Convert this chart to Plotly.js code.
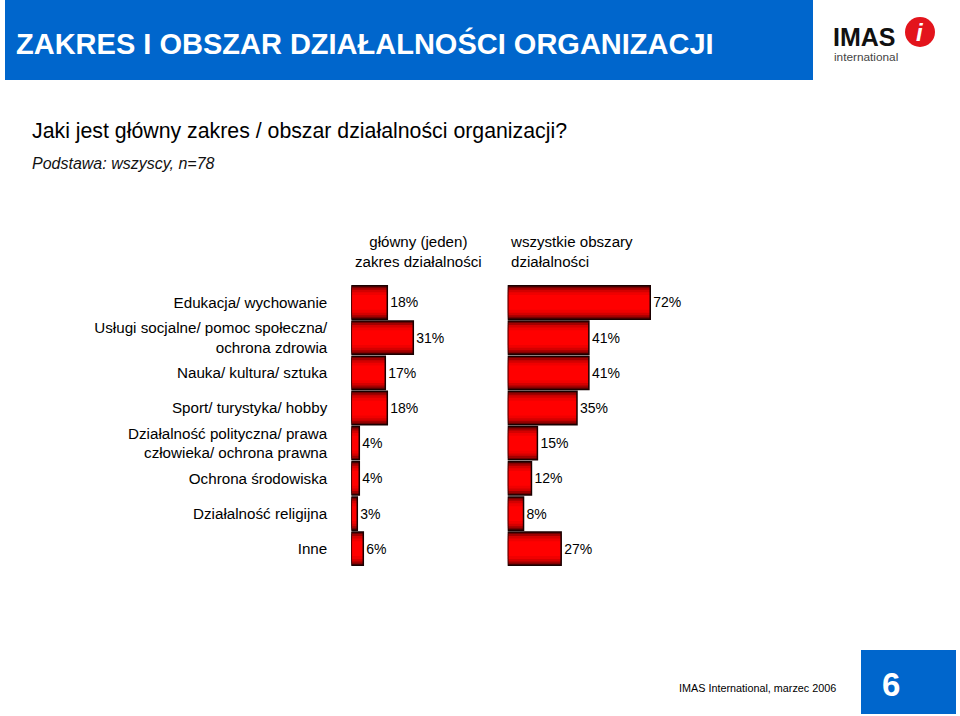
<!DOCTYPE html>
<html>
<head>
<meta charset="utf-8">
<script src="https://cdn.plot.ly/plotly-3.0.1.min.js"></script>
<style>html,body{margin:0;padding:0;background:#fff;}#chart{width:960px;height:716px;}</style>
</head>
<body>
<div id="chart"></div>
<script>
// ---- data ----
const categories = [
  "Edukacja/ wychowanie",
  "Usługi socjalne/ pomoc społeczna/<br>ochrona zdrowia",
  "Nauka/ kultura/ sztuka",
  "Sport/ turystyka/ hobby",
  "Działalność polityczna/ prawa<br>człowieka/ ochrona prawna",
  "Ochrona środowiska",
  "Działalność religijna",
  "Inne"
];
const mainArea = [18, 31, 17, 18, 4, 4, 3, 6];
const allAreas = [72, 41, 41, 35, 15, 12, 8, 27];
const seriesHeaders = ["główny (jeden)<br>zakres działalności", "wszystkie obszary<br>działalności"];
const titleText = "ZAKRES I OBSZAR DZIAŁALNOŚCI ORGANIZACJI";
const questionText = "Jaki jest główny zakres / obszar działalności organizacji?";
const baseText = "Podstawa: wszyscy, n=78";
const footerText = "IMAS International, marzec 2006";
const pageNo = "6";

// ---- helpers ----
const W = 960, H = 716;
const fx = x => x / W;
const fy = y => (H - y) / H;
const FONT = "Liberation Sans, Arial, sans-serif";

// gradient approximation layers (outer dark -> inner bright)
const layers = [
  {w: 0.947, c: "#6a0000"},
  {w: 0.84, c: "#a00000"},
  {w: 0.72, c: "#d40000"},
  {w: 0.58, c: "#f00000"},
  {w: 0.42, c: "#ff0000"}
];

const traces = [];
[[mainArea, "x"], [allAreas, "x2"]].forEach(([vals, xa]) => {
  layers.forEach(l => {
    traces.push({
      type: "bar", orientation: "h", x: vals, y: categories,
      xaxis: xa, yaxis: "y", width: l.w,
      marker: {color: l.c, line: {width: 0}},
      hoverinfo: "skip", showlegend: false
    });
  });
  traces.push({
    type: "bar", orientation: "h", x: vals, y: categories,
    xaxis: xa, yaxis: "y", width: 0.947,
    marker: {color: "rgba(0,0,0,0)", line: {color: "#1a0000", width: 1.5}},
    text: vals.map(v => v + "%"), textposition: "outside",
    textfont: {family: FONT, size: 14, color: "#000"},
    cliponaxis: false, showlegend: false
  });
});

const layout = {
  width: W, height: H,
  margin: {l: 0, r: 0, t: 0, b: 0},
  paper_bgcolor: "#fff", plot_bgcolor: "rgba(0,0,0,0)",
  barmode: "overlay",
  showlegend: false,
  xaxis: {domain: [fx(351.3), fx(351.3 + 140)], range: [0, 70], visible: false, fixedrange: true},
  xaxis2: {domain: [fx(507.7), fx(507.7 + 198)], range: [0, 100], visible: false, anchor: "y", fixedrange: true},
  yaxis: {
    domain: [fy(566.3), fy(284.9)],
    type: "category", categoryorder: "array", categoryarray: categories,
    range: [categories.length - 0.5, -0.5],
    showgrid: false, zeroline: false, showline: false,
    ticks: "outside", ticklen: 20, tickcolor: "rgba(0,0,0,0)",
    tickfont: {family: FONT, size: 15.2, color: "#000"},
    anchor: "x"
  },
  shapes: [
    {type: "rect", xref: "paper", yref: "paper", x0: fx(5), x1: fx(813), y0: fy(80), y1: fy(0),
     fillcolor: "#0066CC", line: {width: 0}, layer: "below"},
    {type: "rect", xref: "paper", yref: "paper", x0: fx(861), x1: fx(956), y0: fy(714), y1: fy(650),
     fillcolor: "#0066CC", line: {width: 0}, layer: "below"},
    {type: "circle", xref: "paper", yref: "paper", x0: fx(905), x1: fx(935), y0: fy(47), y1: fy(17),
     fillcolor: "#e3141c", line: {width: 0}, layer: "below"}
  ],
  annotations: [
    {text: "<b>" + titleText + "</b>", xref: "paper", yref: "paper", x: fx(14), y: fy(44),
     xanchor: "left", yanchor: "middle", showarrow: false,
     font: {family: FONT, size: 29, color: "#fff"}},
    {text: questionText, xref: "paper", yref: "paper", x: fx(30), y: fy(131),
     xanchor: "left", yanchor: "middle", showarrow: false,
     font: {family: FONT, size: 21.3, color: "#000"}},
    {text: "<i>" + baseText + "</i>", xref: "paper", yref: "paper", x: fx(30), y: fy(163),
     xanchor: "left", yanchor: "middle", showarrow: false,
     font: {family: FONT, size: 16, color: "#111"}},
    {text: seriesHeaders[0], xref: "paper", yref: "paper", x: fx(418), y: fy(251),
     xanchor: "center", yanchor: "middle", align: "center", showarrow: false,
     font: {family: FONT, size: 15.1, color: "#000"}},
    {text: seriesHeaders[1], xref: "paper", yref: "paper", x: fx(508), y: fy(251),
     xanchor: "left", yanchor: "middle", align: "left", showarrow: false,
     font: {family: FONT, size: 15.1, color: "#000"}},
    {text: footerText, xref: "paper", yref: "paper", x: fx(838), y: fy(688),
     xanchor: "right", yanchor: "middle", showarrow: false,
     font: {family: "Liberation Sans Narrow, Arial Narrow, " + FONT, size: 10.8, color: "#000"}},
    {text: "<b>" + pageNo + "</b>", xref: "paper", yref: "paper", x: fx(891), y: fy(684),
     xanchor: "center", yanchor: "middle", showarrow: false,
     font: {family: FONT, size: 33, color: "#fff"}},
    {text: "<b>IMAS</b>", xref: "paper", yref: "paper", x: fx(831), y: fy(37),
     xanchor: "left", yanchor: "middle", showarrow: false,
     font: {family: FONT, size: 25, color: "#111"}},
    {text: "international", xref: "paper", yref: "paper", x: fx(831.5), y: fy(57),
     xanchor: "left", yanchor: "middle", showarrow: false,
     font: {family: FONT, size: 11.8, color: "#444"}},
    {text: "<b><i>i</i></b>", xref: "paper", yref: "paper", x: fx(920), y: fy(33),
     xanchor: "center", yanchor: "middle", showarrow: false,
     font: {family: FONT, size: 24, color: "#fff"}}
  ]
};

Plotly.newPlot("chart", traces, layout, {displayModeBar: false, staticPlot: true});
</script>
</body>
</html>
